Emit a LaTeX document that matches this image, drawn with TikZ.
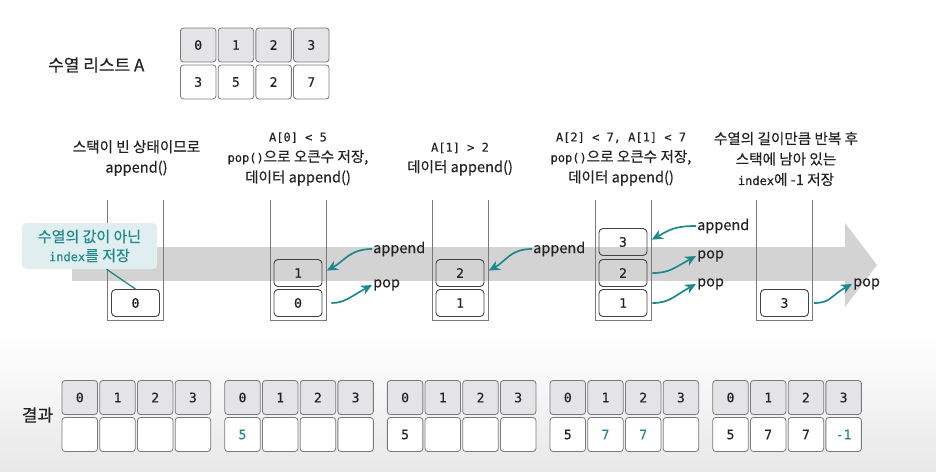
\documentclass[tikz,border=0pt]{standalone}
\usepackage{fontspec}
\setmainfont{Noto Sans CJK KR}[FakeBold=0.3]
\newfontfamily\codefont{DejaVu Sans Mono}[FakeBold=0.2]
\usepackage{xcolor}
\usepackage{tikz}
\usetikzlibrary{arrows.meta}
\definecolor{stkteal}{HTML}{1C8A8C}
\definecolor{stkgrey}{HTML}{7A7A7A}
\definecolor{stkink}{HTML}{222222}
\definecolor{cellfill}{HTML}{E4E4E6}
\definecolor{bandgrey}{HTML}{D3D3D3}
\definecolor{notefill}{HTML}{E1EEF0}
\newcommand{\codetxt}[1]{{\codefont\fontsize{12}{20.5}\selectfont #1}}
\begin{document}
\begin{tikzpicture}[x=1pt,y=-1pt,
  idxcell/.style={draw=stkgrey,fill=cellfill,rounded corners=3pt,line width=0.8pt,minimum width=35.5pt,minimum height=34pt,inner sep=0pt,font=\codefont\fontsize{13}{15}\selectfont,text=stkink},
  valcell/.style={idxcell,fill=white},
  item/.style={draw=stkink!85,rounded corners=4pt,line width=0.9pt,minimum width=48pt,minimum height=27pt,inner sep=0pt,font=\codefont\fontsize{13}{15}\selectfont,text=stkink},
  stackwall/.style={draw=stkgrey,line width=0.8pt},
  desc/.style={font=\fontsize{14.6}{20.5}\selectfont,align=center,text=stkink},
  opname/.style={font=\fontsize{14.5}{16}\selectfont,anchor=west,inner sep=1pt,text=stkink},
  flow/.style={-{Stealth[length=11pt,width=10pt]},stkteal,line width=1.7pt}]
\useasboundingbox (0,0) rectangle (936,471);
\fill[white] (0,0) rectangle (936,471);
\shade[top color=white,bottom color=black!9] (0,335) rectangle (936,471);
\node[anchor=west,inner sep=0pt,font=\fontsize{17}{20}\selectfont,text=stkink] (lbllist) at (48,65) {수열 리스트 A};
\node[idxcell] (ai0) at (198.2,45) {0};
\node[idxcell] (ai1) at (235.9,45) {1};
\node[idxcell] (ai2) at (273.6,45) {2};
\node[idxcell] (ai3) at (311.3,45) {3};
\node[valcell] (av0) at (198.2,82) {3};
\node[valcell] (av1) at (235.9,82) {5};
\node[valcell] (av2) at (273.6,82) {2};
\node[valcell] (av3) at (311.3,82) {7};
\node[desc] (d1) at (136.5,158) {스택이 빈 상태이므로\\append()};
\node[desc] (d2) at (298,159) {\codetxt{A[0] < 5}\\\codetxt{pop()}으로 오큰수 저장,\\데이터 append()};
\node[desc] (d3) at (460,159) {\codetxt{A[1] > 2}\\데이터 append()};
\node[desc] (d4) at (621,159) {\codetxt{A[2] < 7, A[1] < 7}\\\codetxt{pop()}으로 오큰수 저장,\\데이터 append()};
\node[desc] (d5) at (786,159) {수열의 길이만큼 반복 후\\스택에 남아 있는\\\codetxt{index}에 -1 저장};
\fill[bandgrey] (72,247) rectangle (845,281);
\fill[bandgrey] (845,223) -- (877,265) -- (845,307) -- cycle;
\draw[stackwall] (107.5,200) -- (107.5,320) -- (163.5,320) -- (163.5,200);
\draw[stackwall] (270,200) -- (270,320) -- (326,320) -- (326,200);
\draw[stackwall] (432,200) -- (432,320) -- (488,320) -- (488,200);
\draw[stackwall] (595,200) -- (595,320) -- (651,320) -- (651,200);
\draw[stackwall] (756.5,200) -- (756.5,320) -- (812.5,320) -- (812.5,200);
\node[item] (s1a) at (135.5,303) {0};
\node[item] (s2a) at (298,303) {0};
\node[item] (s2b) at (298,273) {1};
\node[item] (s3a) at (460,303) {1};
\node[item] (s3b) at (460,273) {2};
\node[item] (s4a) at (623,303) {1};
\node[item] (s4b) at (623,273) {2};
\node[item] (s4c) at (623,242) {3};
\node[item] (s5a) at (784.5,303) {3};
\node[fill=notefill,rounded corners=4pt,minimum width=135pt,minimum height=46pt,inner sep=2pt,align=center,text=stkteal,font=\fontsize{15}{19}\selectfont] (note) at (89.5,246) {수열의 값이 아닌\\\codetxt{index}를 저장};
\draw[stkteal,line width=1.3pt] ([xshift=17pt]note.south) -- (s1a.north);
\node[opname] (app2) at (372,249) {append};
\node[opname] (pop2) at (372,285) {pop};
\node[opname] (app3) at (532,249) {append};
\node[opname] (app4) at (696,226) {append};
\node[opname] (pop4a) at (696,256) {pop};
\node[opname] (pop4b) at (696,284) {pop};
\node[opname] (pop5) at (852,284) {pop};
\draw[flow,shorten >=5pt] (app2.west) .. controls +(-22,0) and +(22,-12) .. (s2b.east);
\draw[flow,shorten <=9pt] (s2a.east) .. controls +(22,0) and +(-22,12) .. (pop2.west);
\draw[flow,shorten >=5pt] (app3.west) .. controls +(-22,0) and +(22,-12) .. (s3b.east);
\draw[flow,shorten >=5pt] (app4.west) .. controls +(-22,0) and +(22,-12) .. (s4c.east);
\draw[flow,shorten <=5pt] (s4b.east) .. controls +(22,0) and +(-22,12) .. (pop4a.west);
\draw[flow,shorten <=5pt] (s4a.east) .. controls +(22,0) and +(-22,12) .. (pop4b.west);
\draw[flow,shorten <=5pt] (s5a.east) .. controls +(22,0) and +(-22,12) .. (pop5.west);
\node[font=\fontsize{17}{20}\selectfont,text=stkink] (lblres) at (37.5,415) {결과};
\node[idxcell] (r1i0) at (79.8,397.5) {0};
\node[idxcell] (r1i1) at (117.5,397.5) {1};
\node[idxcell] (r1i2) at (155.2,397.5) {2};
\node[idxcell] (r1i3) at (192.9,397.5) {3};
\node[valcell] (r1v0) at (79.8,434.5) {};
\node[valcell] (r1v1) at (117.5,434.5) {};
\node[valcell] (r1v2) at (155.2,434.5) {};
\node[valcell] (r1v3) at (192.9,434.5) {};
\node[idxcell] (r2i0) at (242.5,397.5) {0};
\node[idxcell] (r2i1) at (280.2,397.5) {1};
\node[idxcell] (r2i2) at (317.9,397.5) {2};
\node[idxcell] (r2i3) at (355.6,397.5) {3};
\node[valcell,text=stkteal] (r2v0) at (242.5,434.5) {5};
\node[valcell] (r2v1) at (280.2,434.5) {};
\node[valcell] (r2v2) at (317.9,434.5) {};
\node[valcell] (r2v3) at (355.6,434.5) {};
\node[idxcell] (r3i0) at (405.1,397.5) {0};
\node[idxcell] (r3i1) at (442.8,397.5) {1};
\node[idxcell] (r3i2) at (480.5,397.5) {2};
\node[idxcell] (r3i3) at (518.2,397.5) {3};
\node[valcell] (r3v0) at (405.1,434.5) {5};
\node[valcell] (r3v1) at (442.8,434.5) {};
\node[valcell] (r3v2) at (480.5,434.5) {};
\node[valcell] (r3v3) at (518.2,434.5) {};
\node[idxcell] (r4i0) at (567.8,397.5) {0};
\node[idxcell] (r4i1) at (605.5,397.5) {1};
\node[idxcell] (r4i2) at (643.2,397.5) {2};
\node[idxcell] (r4i3) at (680.9,397.5) {3};
\node[valcell] (r4v0) at (567.8,434.5) {5};
\node[valcell,text=stkteal] (r4v1) at (605.5,434.5) {7};
\node[valcell,text=stkteal] (r4v2) at (643.2,434.5) {7};
\node[valcell] (r4v3) at (680.9,434.5) {};
\node[idxcell] (r5i0) at (730.5,397.5) {0};
\node[idxcell] (r5i1) at (768.2,397.5) {1};
\node[idxcell] (r5i2) at (805.9,397.5) {2};
\node[idxcell] (r5i3) at (843.6,397.5) {3};
\node[valcell] (r5v0) at (730.5,434.5) {5};
\node[valcell] (r5v1) at (768.2,434.5) {7};
\node[valcell] (r5v2) at (805.9,434.5) {7};
\node[valcell,text=stkteal] (r5v3) at (843.6,434.5) {-1};
\end{tikzpicture}
\end{document}
